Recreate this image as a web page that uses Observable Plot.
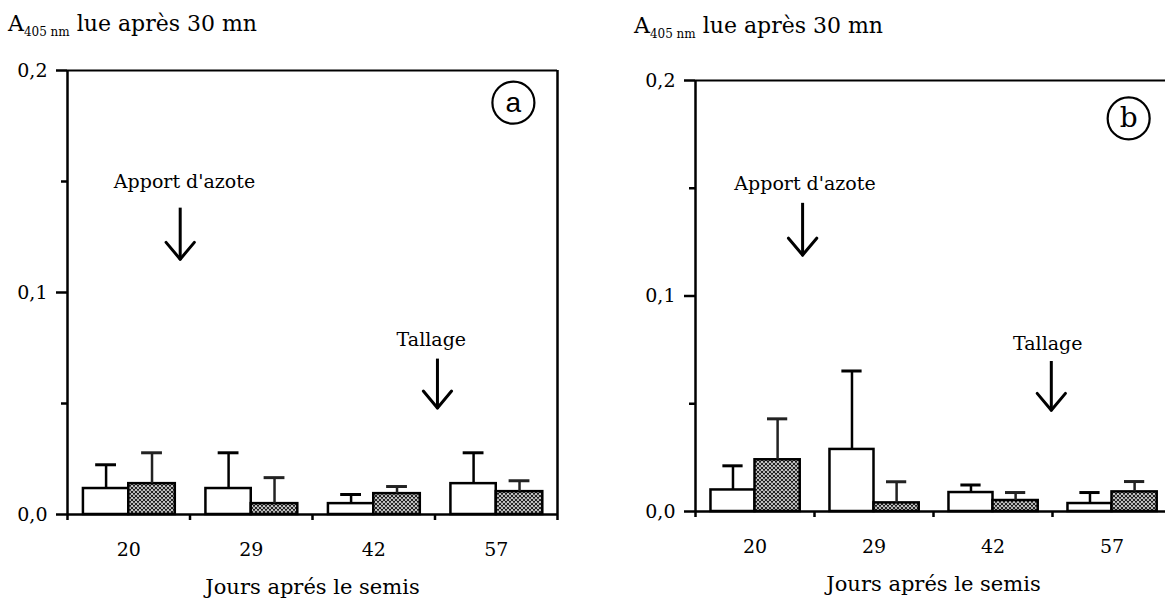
<!DOCTYPE html>
<html>
<head>
<meta charset="utf-8">
<script src="https://cdn.jsdelivr.net/npm/d3@7"></script>
<script src="https://cdn.jsdelivr.net/npm/@observablehq/plot@0.6"></script>
<style>
  html, body { margin: 0; padding: 0; background: #fff; overflow: hidden; }
  #wrap { position: relative; width: 1165px; height: 606px; overflow: hidden; }
  .title { position: absolute; font-family: "DejaVu Serif", serif; font-size: 22px; line-height: 22px; color: #000; white-space: nowrap; }
  .title sub { font-size: 12px; vertical-align: -5px; line-height: 0; }
  .panel { position: absolute; top: 0; }
  .panel svg { max-width: none !important; }
</style>
</head>
<body>
<div id="wrap">
  <div class="title" style="left:8px; top:13px;">A<sub>405 nm</sub> lue après 30 mn</div>
  <div class="title" style="left:634px; top:15px;">A<sub>405 nm</sub> lue après 30 mn</div>
  <div id="pa" class="panel" style="left:0px;"></div>
  <div id="pb" class="panel" style="left:582px;"></div>
</div>
<script>
// ---- data ----
const days = ["20", "29", "42", "57"];
const aWhite    = [0.0117, 0.0117, 0.0049, 0.0139];
const aWhiteErr = [0.0224, 0.0278, 0.0090, 0.0278];
const aHatch    = [0.0139, 0.0049, 0.0094, 0.0103];
const aHatchErr = [0.0278, 0.0166, 0.0126, 0.0152];
const bWhite    = [0.0100, 0.0288, 0.0088, 0.0037];
const bWhiteErr = [0.0212, 0.0652, 0.0123, 0.0088];
const bHatch    = [0.0240, 0.0040, 0.0051, 0.0091];
const bHatchErr = [0.0430, 0.0138, 0.0088, 0.0139];
const yTicks = [0, 0.1, 0.2];
const yMinor = [0.05, 0.15];
const xLabel = "Jours aprés le semis";

// annotations (in data units: x = group index scale, y = absorbance)
const notesA = [
  {text: "Apport d'azote", tx: 0.955, ty: 0.150, ax: 0.92, y1: 0.1380, y2: 0.1150},
  {text: "Tallage",        tx: 2.97,  ty: 0.0787, ax: 3.02, y1: 0.0700, y2: 0.0480}
];
const notesB = [
  {text: "Apport d'azote", tx: 0.92, ty: 0.152, ax: 0.90, y1: 0.1430, y2: 0.1190},
  {text: "Tallage",        tx: 2.96, ty: 0.0780, ax: 2.99, y1: 0.0696, y2: 0.0470}
];
const circleA = [{label: "a", x: 3.64, y: 0.1855}];
const circleB = [{label: "b", x: 3.64, y: 0.1824}];

function rows(white, whiteErr, hatch, hatchErr) {
  const out = [];
  days.forEach((d, i) => {
    out.push({i, kind: "w", v: white[i], e: whiteErr[i]});
    out.push({i, kind: "h", v: hatch[i], e: hatchErr[i]});
  });
  return out;
}

const wingShape = {
  draw(context, l) { context.moveTo(0, 0); context.lineTo(0, -l); }
};

function panel({data, notes, circle, letterFont, width, marginLeft, marginRight, marginTop, marginBottom, rightFrame, patId}) {
  const x1 = d => d.i + (d.kind === "w" ? 0.13 : 0.5);
  const x2 = d => d.i + (d.kind === "w" ? 0.5 : 0.88);
  const xc = d => d.i + (d.kind === "w" ? 0.315 : 0.69);
  const marks = [
    Plot.rectY(data, {x1, x2, y: "v",
      fill: d => d.kind === "w" ? "white" : `url(#${patId})`,
      stroke: "black", strokeWidth: 2.5}),
    Plot.ruleX(data, {x: xc, y1: "v", y2: "e", stroke: d => d.kind === "w" ? "#000" : "#222", strokeWidth: 2.5}),
    Plot.ruleY(data, {y: "e", x1: d => xc(d) - 0.085, x2: d => xc(d) + 0.085, stroke: d => d.kind === "w" ? "#000" : "#222", strokeWidth: 3}),
    // frame
    Plot.ruleY([0], {stroke: "black", strokeWidth: 2.5}),
    Plot.ruleX([0], {stroke: "black", strokeWidth: 2.5}),
    Plot.ruleY([0.2], {stroke: "black", strokeWidth: 2}),
    // axes
    Plot.axisY(yTicks, {tickSize: 11, tickPadding: 9, strokeWidth: 2.5, fontSize: 19, label: null,
      tickFormat: d => d.toFixed(1).replace(".", ",")}),
    Plot.axisY(yMinor, {tickSize: 6, strokeWidth: 2.5, label: null, tickFormat: () => ""}),
    Plot.axisX([0, 1, 2, 3, 4], {tickSize: 6, strokeWidth: 2.5, label: null, tickFormat: () => ""}),
    Plot.axisX([0.5, 1.5, 2.5, 3.5], {tickSize: 0, tickPadding: 28, fontSize: 19, label: null,
      tickFormat: d => days[Math.floor(d)]}),
    Plot.text([xLabel], {frameAnchor: "bottom", dy: 79, fontSize: 21}),
    // annotations
    Plot.text(notes, {x: "tx", y: "ty", text: "text", fontSize: 19}),
    Plot.ruleX(notes, {x: "ax", y1: "y1", y2: "y2", stroke: "black", strokeWidth: 3}),
    Plot.vector(notes, {x: "ax", y: "y2", length: 22, rotate: 40, anchor: "start", shape: wingShape, stroke: "black", strokeWidth: 3, strokeLinecap: "round"}),
    Plot.vector(notes, {x: "ax", y: "y2", length: 22, rotate: -40, anchor: "start", shape: wingShape, stroke: "black", strokeWidth: 3, strokeLinecap: "round"}),
    Plot.dot(circle, {x: "x", y: "y", r: 21, stroke: "black", strokeWidth: 2.2, fill: "none"}),
    Plot.text(circle, {x: "x", y: "y", text: "label", fontSize: 28, fontFamily: letterFont})
  ];
  if (rightFrame) marks.push(Plot.ruleX([4], {stroke: "black", strokeWidth: 2.5}));
  const svg = Plot.plot({
    width, height: 606, marginLeft, marginRight, marginTop, marginBottom,
    x: {domain: [0, 4], axis: null},
    y: {domain: [0, 0.2], axis: null},
    style: {fontFamily: "'DejaVu Serif', serif", color: "black", background: "transparent", overflow: "visible", maxWidth: "none"},
    marks
  });
  svg.style.maxWidth = "none";
  const defs = d3.select(svg).insert("defs", ":first-child");
  const p = defs.append("pattern").attr("id", patId).attr("patternUnits", "userSpaceOnUse")
    .attr("width", 4).attr("height", 4);
  p.append("rect").attr("width", 4).attr("height", 4).attr("fill", "#fff");
  p.append("path").attr("d", "M-1,1 L1,-1 M0,4 L4,0 M3,5 L5,3 M-1,3 L1,5 M0,0 L4,4 M3,-1 L5,1")
    .attr("stroke", "#1a1a1a").attr("stroke-width", 1.15);
  return svg;
}

document.getElementById("pa").appendChild(panel({
  data: rows(aWhite, aWhiteErr, aHatch, aHatchErr), notes: notesA, circle: circleA,
  letterFont: "'Liberation Sans', sans-serif",
  width: 582, marginLeft: 67, marginRight: 25, marginTop: 70, marginBottom: 92,
  rightFrame: true, patId: "hatchA"
}));
document.getElementById("pb").appendChild(panel({
  data: rows(bWhite, bWhiteErr, bHatch, bHatchErr), notes: notesB, circle: circleB,
  letterFont: "'DejaVu Serif', serif",
  width: 600, marginLeft: 113, marginRight: 11, marginTop: 80, marginBottom: 95,
  rightFrame: false, patId: "hatchB"
}));
</script>
</body>
</html>
